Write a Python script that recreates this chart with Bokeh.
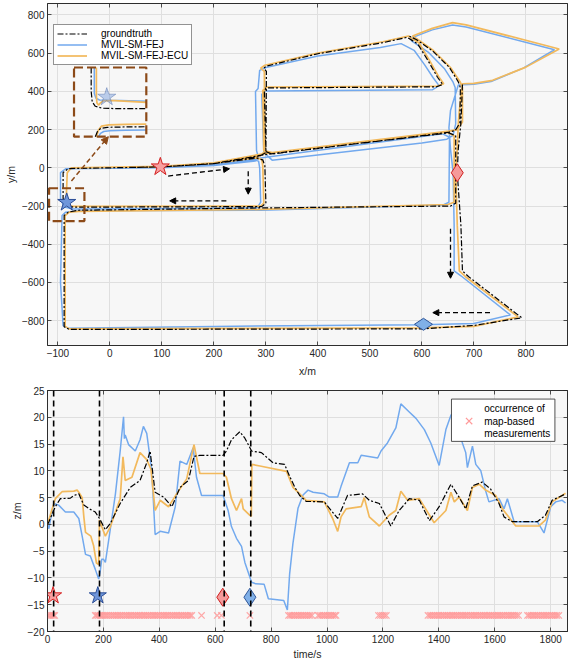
import math
from bokeh.plotting import figure
from bokeh.models import (Range1d, Legend, LegendItem, Span, Arrow, NormalHead,
                          LinearAxis, FixedTicker)
from bokeh.layouts import column
from bokeh.embed import file_html
from bokeh.resources import INLINE
from bokeh.core.properties import value

NaN = float("nan")
FONT = "Liberation Sans"
INK = "#262626"
BLUE = "#72a9ee"
ORANGE = "#f2b95c"
BROWN = "#8c4a18"
PINK = "#ff9a9a"
GT_DASH = "6 2 2 2"

# ---------------- top panel: trajectories (x/m, y/m) ----------------
gt_path = [(60, 3), (100, 5), (200, 22), (280, 50), (294, 42), (298, 10), (300, -185), (292, -203),
           (-70, -206), (-84, -196), (-90, -160), (-90, -25), (-80, -4), (100, 5), (200, 22), (286, 58),
           (300, 80), (301, 505), (296, 522), (302, 533), (400, 597), (525, 655), (572, 683), (592, 648),
           (612, 560), (630, 474), (640, 436), (628, 424), (300, 418), (297, 400), (300, 85), (312, 72),
           (650, 185), (664, 195), (673, 235), (674, 420), (670, 450), (653, 525), (621, 611), (589, 672),
           (576, 689), (NaN, NaN), (678, 436), (676, 300), (675, 233), (670, 100), (668, -26), (675, -300),
           (678, -540), (690, -570), (792, -785), (700, -825), (600, -843), (-78, -846), (-88, -832),
           (-88, -250), (-80, -232), (-60, -222), (290, -210), (655, -200), (665, -185), (665, 168),
           (652, 183), (300, 70), (200, 22), (100, 5), (40, 2)]
ecu_path = [(60, 4), (100, 6), (200, 24), (282, 52), (292, 45), (294, 10), (296, -185), (290, -200),
            (-72, -202), (-86, -190), (-84, -160), (-82, -25), (-74, 0), (100, 8), (200, 26), (288, 62),
            (298, 85), (297, 505), (290, 522), (298, 537), (400, 600), (525, 660), (574, 690), (594, 655),
            (614, 565), (632, 478), (642, 440), (630, 428), (302, 422), (294, 405), (296, 90), (312, 80),
            (652, 192), (668, 200), (678, 240), (678, 420), (674, 448), (655, 525), (622, 614), (590, 676),
            (582, 690), (620, 730), (659, 760), (685, 748), (864, 622), (800, 527), (736, 458), (700, 442),
            (678, 440), (672, 300), (670, 233), (668, 100), (665, -26), (668, -300), (672, -540), (684, -570),
            (785, -780), (700, -830), (600, -838), (-78, -843), (-86, -830), (-86, -250), (-78, -232),
            (-60, -228), (290, -218), (650, -192), (662, -180), (662, 168), (648, 186), (300, 76), (200, 26),
            (100, 8), (40, 4)]
fej_path = [(60, 2), (100, 3), (200, 18), (275, 42), (286, 35), (288, 0), (290, -180), (283, -210),
            (-72, -215), (-88, -205), (-95, -160), (-95, -25), (-85, -5), (100, 0), (200, 12), (280, 36),
            (285, 60), (282, 90), (280, 400), (285, 415), (288, 510), (300, 525), (400, 585), (520, 630),
            (560, 650), (585, 615), (605, 540), (622, 470), (633, 430), (620, 408), (300, 402), (292, 385),
            (296, 80), (312, 40), (600, 130), (648, 150), (660, 170), (665, 230), (664, 420), (660, 448),
            (643, 520), (612, 606), (580, 665), (580, 680), (620, 722), (659, 748), (685, 737), (855, 618),
            (795, 522), (733, 452), (700, 437), (670, 433), (655, 300), (652, 210), (655, 100), (660, -26),
            (662, -300), (662, -540), (675, -565), (770, -770), (700, -815), (600, -822), (200, -830),
            (-80, -840), (-90, -826), (-95, -600), (-92, -250), (-85, -232), (-60, -225), (290, -222),
            (640, -195), (652, -180), (653, 160), (640, 178), (300, 55), (200, 15), (100, 0), (40, 0)]

# magnified inset (drawn inside the upper dashed box)
inset_gt_upper = [(-36, 525), (-36, 400), (-34, 345), (-28, 322), (-15, 312), (10, 310), (40, 310), (70, 310)]
inset_ecu_upper = [(-26, 525), (-26, 380), (-25, 340), (-22, 328), (-18, 340), (-12, 352), (10, 352), (70, 343)]
inset_fej_upper = [(-30, 525), (-30, 390), (-27, 365), (-20, 355), (-5, 353), (20, 352), (70, 348)]
inset_gt_lower = [(-28, 163), (-24, 190), (-18, 206), (-5, 212), (30, 214), (70, 215)]
inset_ecu_lower = [(-26, 163), (-22, 198), (-16, 218), (-2, 225), (30, 227), (70, 229)]
inset_fej_lower = [(-22, 163), (-18, 180), (-12, 190), (0, 194), (30, 196), (70, 198)]

top_star_x = [97, -83]
top_star_y = [5, -181]
inset_star_xy = (-6, 370)
top_diamond_red = (668, -26)
top_diamond_blue = (603, -819)

zoom_box = (-117, -49, -279, -107)    # left, right, bottom, top
inset_box = (-69, 70, 163, 525)
brown_arrow = (-74, -69, -3, 163)
black_arrows = [(112, -43, 230, -5), (266, -18, 266, -138), (224, -173, 115, -173),
                (655, -319, 655, -578), (731, -758, 621, -758)]

top_xticks = [-100, 0, 100, 200, 300, 400, 500, 600, 700, 800]
top_yticks = [-800, -600, -400, -200, 0, 200, 400, 600, 800]

# ---------------- bottom panel: z vs time ----------------
t_gt = [0, 5, 28, 46, 82, 94, 112, 130, 153, 171, 186, 207, 225, 260, 296, 331, 355, 367, 385, 415,
        445, 474, 504, 524, 545, 628, 640, 658, 688, 706, 730, 765, 807, 848, 866, 884, 902, 925, 990,
        1038, 1073, 1127, 1151, 1187, 1228, 1258, 1294, 1330, 1366, 1401, 1443, 1472, 1496, 1520, 1555,
        1585, 1615, 1633, 1663, 1752, 1781, 1805, 1853]
z_gt = [0, 0.5, 3.3, 4.8, 4.9, 5.4, 5.7, 3.6, 2.8, 2.3, 1.1, -1.0, 0.2, 3.9, 6.9, 8.2, 11.5, 13.7, 6.0, 5.1,
        3.3, 6.9, 8.2, 12.7, 12.9, 12.9, 13.7, 15.8, 17.3, 16.1, 13.7, 13.4, 11.5, 11.2, 9.0, 7.0, 5.4, 4.3, 4.2,
        1.1, 5.4, 5.7, 4.5, 3.9, -0.3, 2.6, 4.8, 4.5, 0.7, 3.3, 7.5, 5.1, 2.9, 7.2, 7.9,
        6.6, 3.9, 1.4, 0.5, 0.5, 1.7, 4.5, 5.7]
t_ecu = [0, 8, 28, 52, 94, 106, 112, 124, 130, 136, 155, 165, 175, 183, 186, 194, 207, 225, 260, 270,
         278, 302, 331, 355, 370, 385, 403, 433, 462, 498, 524, 545, 628, 640, 658, 676, 694, 700, 724,
         729, 731, 760, 855, 878, 902, 925, 990, 1020, 1038, 1050, 1068, 1122, 1133, 1151, 1187, 1222,
         1246, 1264, 1288, 1330, 1383, 1425, 1443, 1455, 1472, 1502, 1520, 1544, 1567, 1603, 1627, 1645,
         1675, 1758, 1781, 1805, 1853]
z_ecu = [0, 1.4, 4.8, 6.1, 6.2, 6.4, 6.0, 5.0, 1.4, -1.5, -2.2, -4.0, -7.2, -7.5, 0.8, -0.4, -2.2, -0.4, 4.8, 12.6,
         8.2, 8.8, 13.4, 12.1, 10.3, 2.6, 4.5, 3.3, 5.7, 8.5, 14.9, 9.5, 9.5, 8.8, 4.8, 2.6, 4.8, 2.9, 1.7,
         1.5, 11.2, 10.9, 9.9, 6.9, 5.7, 4.5, 4.2, 1.1, -1.3, 1.4, 2.9, 3.3, 5.0, 1.4, -0.3, 1.7,
         2.6, 6.2, 4.5, 4.8, 0.3, 2.6, 6.0, 4.2, 5.1, 2.6, 6.9, 7.5, 6.4, 5.4, 2.9, 1.7,
         -0.3, -0.3, 0.8, 4.2, 5.8]
t_fej = [0, 5, 11, 23, 40, 64, 94, 112, 124, 136, 153, 171, 183, 188, 194, 200, 207, 219, 243, 260, 272,
         275, 278, 290, 314, 331, 343, 355, 373, 385, 403, 433, 457, 474, 498, 521, 533, 551, 628, 646,
         658, 676, 694, 706, 730, 745, 775, 790, 845, 858, 866, 878, 896, 914, 932, 950, 990, 1008, 1038,
         1050, 1080, 1110, 1122, 1181, 1193, 1216, 1246, 1264, 1294, 1318, 1348, 1371, 1401, 1425, 1443,
         1460, 1484, 1496, 1502, 1520, 1532, 1550, 1567, 1579, 1615, 1633, 1645, 1669, 1752, 1776, 1800,
         1818, 1841, 1853]
z_fej = [0, -0.8, 1.0, 3.9, 3.6, 2.3, 2.3, 1.1, -2.2, -5.6, -5.9, -8.4, -10.2, -9.0, -6.5, -6.5, -7.1, -2.9, 5.7, 13.7, 20.1,
         16.0, 16.7, 14.9, 13.7, 15.8, 18.3, 17.0, 10.0, -1.9, -1.3, -1.6, 3.3, 11.8, 11.2, 14.3, 8.8, 5.4, 5.4, 2.6,
         -0.4, -2.6, -4.1, -7.1, -10.8, -11.1, -11.2, -13.9, -14.2, -16.0, -9.3, -3.5, 3.0, 5.5, 6.4, 6.0, 5.7, 5.1, 5.1,
         7.1, 11.5, 11.5, 12.9, 12.4, 13.7, 15.2, 18.0, 22.5, 21.0, 19.8, 17.7, 15.2, 11.0, 17.7, 20.4,
         21.0, 15.2, 13.4, 10.6, 14.6, 11.2, 10.0, 6.3, 4.2, 4.8, 2.9, 4.8, 0.5, 0.5, -1.6, 3.3,
         4.2, 4.5, 4.0]

meas_t = [2, 7, 12, 17, 22, 26,
          171, 176, 182, 188, 193, 199, 206, 212, 219, 226, 233, 239, 246, 252, 259, 265, 272, 279, 285,
          292, 298, 305, 312, 318, 325, 331, 338, 345, 351, 358, 364, 371, 378, 384, 391, 397, 404, 411,
          417, 424, 430, 437, 444, 450, 457, 463, 470, 477, 483, 490, 496, 503, 510, 516,
          551, 607, 622, 724,
          862, 868, 874, 881, 887, 894, 900, 907, 913, 920, 926, 933, 939, 946,
          968, 974, 981, 988, 994, 1001, 1007, 1014, 1020, 1027, 1032,
          1184, 1191, 1198, 1205, 1212,
          1361, 1368, 1374, 1381, 1387, 1394, 1400, 1407, 1414, 1420, 1427, 1433, 1440, 1447, 1453, 1460,
          1466, 1473, 1480, 1486, 1493, 1499, 1506, 1513, 1519, 1526, 1532, 1539, 1546, 1552, 1559, 1565,
          1572, 1579, 1585, 1592, 1598, 1605, 1612, 1618, 1625, 1631, 1638, 1645, 1651, 1658, 1664, 1671,
          1678, 1685,
          1717, 1723, 1730, 1737, 1743, 1750, 1756, 1763, 1770, 1776, 1783, 1789, 1796, 1803, 1809, 1816,
          1822, 1829]
MEAS_LEVEL = -17
event_lines_t = [22, 186, 632, 727]
bottom_star_t = [20, 180]
bottom_diamond_t = [627, 724]
MARK_LEVEL_STAR = -13.3
MARK_LEVEL_DIAMOND = -13.6

legend2_lines = ["occurrence of", "map-based", "measurements"]

bot_xticks = [0, 200, 400, 600, 800, 1000, 1200, 1400, 1600, 1800]
bot_yticks = [-20, -15, -10, -5, 0, 5, 10, 15, 20, 25]


def xs(path):
    return [p[0] for p in path]


def ys(path):
    return [p[1] for p in path]


def style(p, xt, yt, xlabel, ylabel, label_gap):
    p.background_fill_color = "#f7f7f7"
    p.border_fill_color = "white"
    p.outline_line_color = INK
    p.outline_line_width = 0.8
    p.xaxis.axis_label = xlabel
    p.yaxis.axis_label = ylabel
    top = LinearAxis()
    right = LinearAxis()
    p.add_layout(top, "above")
    p.add_layout(right, "right")
    for ax in p.xaxis:
        ax.ticker = FixedTicker(ticks=xt)
    for ax in p.yaxis:
        ax.ticker = FixedTicker(ticks=yt)
    for ax in p.axis:
        ax.major_tick_in = 4
        ax.major_tick_out = 0
        ax.minor_tick_line_color = None
        ax.axis_line_color = INK
        ax.axis_line_width = 0.8
        ax.major_tick_line_color = INK
        ax.major_tick_line_width = 0.8
        ax.major_label_text_font = FONT
        ax.major_label_text_font_size = "10px"
        ax.major_label_text_color = INK
        ax.major_label_standoff = 3
        ax.axis_label_text_font = FONT
        ax.axis_label_text_font_size = "10.5px"
        ax.axis_label_text_font_style = "normal"
        ax.axis_label_text_color = INK
        ax.axis_label_standoff = 2
    p.below[0].axis_label_standoff = label_gap
    for ax, ticks in ((top, xt), (right, yt)):
        ax.major_label_overrides = {t: "" for t in ticks}
        ax.major_label_text_font_size = "0px"
        ax.major_label_standoff = 0
    p.grid.grid_line_color = "#dfdfdf"
    p.grid.grid_line_width = 1


# ---------------- figure 1 ----------------
p1 = figure(width=568, height=379, x_range=Range1d(-120, 880), y_range=Range1d(-930, 860),
            output_backend="svg", toolbar_location=None,
            min_border_left=47, min_border_right=1, min_border_top=3, min_border_bottom=0)
style(p1, top_xticks, top_yticks, "x/m", "y/m", 5)

r_fej = p1.line(xs(fej_path), ys(fej_path), line_color=BLUE, line_width=1.5)
r_ecu = p1.line(xs(ecu_path), ys(ecu_path), line_color=ORANGE, line_width=1.7)
r_gt = p1.line(xs(gt_path), ys(gt_path), line_color="black", line_width=1.2, line_dash=GT_DASH)

for path, col, w, dash in ((inset_fej_upper, BLUE, 1.5, "solid"), (inset_fej_lower, BLUE, 1.5, "solid"),
                           (inset_ecu_upper, ORANGE, 1.7, "solid"), (inset_ecu_lower, ORANGE, 1.7, "solid"),
                           (inset_gt_upper, "black", 1.2, GT_DASH), (inset_gt_lower, "black", 1.2, GT_DASH)):
    p1.line(xs(path), ys(path), line_color=col, line_width=w, line_dash=dash)

for box in (zoom_box, inset_box):
    p1.quad(left=[box[0]], right=[box[1]], bottom=[box[2]], top=[box[3]], fill_alpha=0,
            line_color=BROWN, line_width=2.2, line_dash="9 4")

p1.add_layout(Arrow(x_start=brown_arrow[0], y_start=brown_arrow[1], x_end=brown_arrow[2], y_end=brown_arrow[3],
                    line_color=BROWN, line_width=1.5, line_dash="5 3",
                    end=NormalHead(size=7, fill_color=BROWN, line_color=BROWN)))
for a in black_arrows:
    p1.add_layout(Arrow(x_start=a[0], y_start=a[1], x_end=a[2], y_end=a[3],
                        line_color="black", line_width=1.3, line_dash="5 3",
                        end=NormalHead(size=6, fill_color="black", line_color="black")))

p1.scatter(x=top_star_x, y=top_star_y, marker="star", size=19,
           fill_color=["#f7a0a0", "#6f96da"], line_color=["#d42020", "#2a4c96"], line_width=1)
p1.scatter(x=[inset_star_xy[0]], y=[inset_star_xy[1]], marker="star", size=19,
           fill_color="#6f96da", fill_alpha=0.45, line_color="#2a4c96", line_alpha=0.35)
p1.scatter(x=[top_diamond_red[0]], y=[top_diamond_red[1]], marker="diamond", size=18,
           fill_color="#f59a9a", line_color="#d01c1c", line_width=1)
p1.scatter(x=[top_diamond_blue[0]], y=[top_diamond_blue[1]], marker="diamond", size=18, angle=math.pi / 2,
           fill_color="#80b0e8", line_color="#2f5597", line_width=1)

legend1 = Legend(items=[LegendItem(label="groundtruth", renderers=[r_gt]),
                        LegendItem(label="MVIL-SM-FEJ", renderers=[r_fej]),
                        LegendItem(label="MVIL-SM-FEJ-ECU", renderers=[r_ecu])],
                 location=(6, 280), padding=3, spacing=0, label_height=11, glyph_height=11,
                 glyph_width=30, label_standoff=14, label_text_font=FONT, label_text_font_size="10px",
                 label_text_color="black", border_line_color=INK, border_line_width=0.8,
                 background_fill_color="white", background_fill_alpha=1)
p1.add_layout(legend1)

# ---------------- figure 2 ----------------
p2 = figure(width=568, height=283, x_range=Range1d(0, 1860), y_range=Range1d(-20, 25),
            output_backend="svg", toolbar_location=None,
            min_border_left=47, min_border_right=1, min_border_top=11, min_border_bottom=0)
style(p2, bot_xticks, bot_yticks, "time/s", "z/m", 2)

p2.line(t_fej, z_fej, line_color=BLUE, line_width=1.5)
p2.line(t_ecu, z_ecu, line_color=ORANGE, line_width=1.7)
p2.line(t_gt, z_gt, line_color="black", line_width=1.2, line_dash=GT_DASH)

p2.scatter(x=meas_t, y=[MEAS_LEVEL] * len(meas_t), marker="x", size=9, line_color=PINK, line_alpha=0.85,
           line_width=1.2)

for t in event_lines_t:
    p2.add_layout(Span(location=t, dimension="height", line_color="black", line_width=1.6, line_dash="6 4"))

p2.scatter(x=bottom_star_t, y=[MARK_LEVEL_STAR] * 2, marker="star", size=18,
           fill_color=["#f7a0a0", "#6f96da"], line_color=["#d42020", "#2a4c96"], line_width=1)
p2.scatter(x=bottom_diamond_t, y=[MARK_LEVEL_DIAMOND] * 2, marker="diamond", size=18,
           fill_color=["#f59a9a", "#80b0e8"], line_color=["#d01c1c", "#2f5597"], line_width=1)

# legend of the bottom panel (drawn above the curves)
p2.quad(left=[1445], right=[1815], bottom=[15.5], top=[23.4], fill_color="white", line_color=INK,
        line_width=0.8)
p2.scatter(x=[1508], y=[19.3], marker="x", size=9, line_color=PINK, line_width=1.2)
p2.text(x=[1562, 1562, 1562], y=[21.7, 19.3, 16.9], text=legend2_lines, text_font=value(FONT),
        text_font_size="10px", text_color="black", text_baseline="middle", text_align="left")

layout = column(p1, p2)
open("out.html", "w").write(file_html(layout, INLINE))
